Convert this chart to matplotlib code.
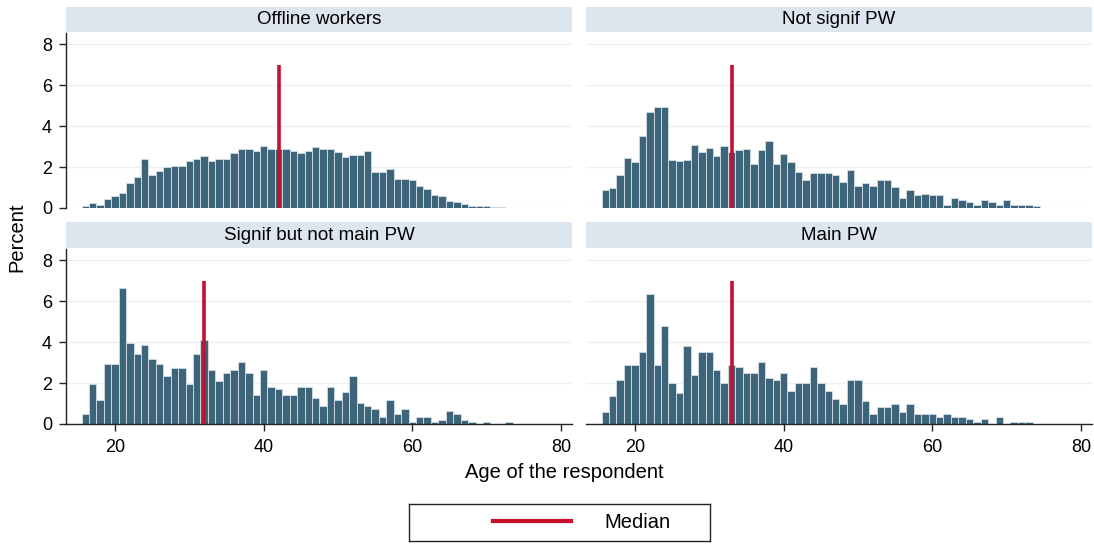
import numpy as np
import matplotlib
matplotlib.use("Agg")
import matplotlib.pyplot as plt
from matplotlib.lines import Line2D

plt.rcParams["font.family"] = ["Liberation Sans", "DejaVu Sans"]

# -----------------------------
# Data (percent of respondents by age, one bar per year of age)
# -----------------------------
panel_titles = ["Offline workers", "Not signif PW", "Signif but not main PW", "Main PW"]
medians = [42, 33, 32, 33]
median_top = 7

ages_offline = list(range(16, 76))
pct_offline = [0.10, 0.23, 0.16, 0.44, 0.57, 0.72, 1.24, 1.53, 2.41, 1.61,
               1.80, 1.99, 2.06, 2.03, 2.31, 2.37, 2.55, 2.28, 2.37, 2.41,
               2.67, 2.89, 2.89, 2.78, 3.01, 2.89, 2.89, 2.89, 2.76, 2.70,
               2.80, 2.99, 2.89, 2.86, 2.72, 2.47, 2.57, 2.59, 2.76, 1.76,
               1.76, 1.90, 1.41, 1.41, 1.38, 1.09, 0.94, 0.63, 0.60, 0.33,
               0.28, 0.20, 0.11, 0.11, 0.08, 0.05, 0.03, 0.02, 0.02, 0.01]

ages_notsig = list(range(16, 75))
pct_notsig = [0.89, 0.99, 1.59, 2.46, 2.23, 3.53, 4.70, 4.93, 4.93, 2.33,
              2.29, 2.33, 3.07, 2.73, 2.93, 2.54, 3.02, 2.73, 2.83, 2.89,
              2.13, 2.83, 3.27, 2.13, 2.63, 2.23, 1.77, 1.37, 1.71, 1.69,
              1.71, 1.59, 1.27, 1.84, 1.09, 1.24, 1.09, 1.37, 1.37, 1.02,
              0.47, 0.89, 0.65, 0.70, 0.65, 0.65, 0.13, 0.47, 0.39, 0.31,
              0.16, 0.41, 0.31, 0.16, 0.41, 0.16, 0.13, 0.16, 0.11]

ages_signif = list(range(16, 74))
pct_signif = [0.49, 1.95, 1.15, 2.91, 2.91, 6.65, 3.95, 3.41, 3.84, 3.15,
              2.91, 2.36, 2.75, 2.75, 1.95, 3.41, 4.08, 2.62, 2.08, 2.49,
              2.62, 3.02, 2.49, 1.41, 2.62, 1.82, 1.69, 1.41, 1.41, 1.82,
              1.82, 1.28, 0.88, 1.82, 1.15, 1.54, 2.36, 1.01, 0.88, 0.75,
              0.34, 1.15, 0.49, 0.75, 0.08, 0.34, 0.34, 0.08, 0.21, 0.62,
              0.49, 0.21, 0.08, 0.0, 0.08, 0.0, 0.0, 0.08]

ages_main = list(range(16, 74))
pct_main = [0.60, 1.37, 2.13, 2.89, 2.89, 3.53, 6.36, 2.89, 4.80, 2.00,
            1.50, 3.79, 2.37, 3.53, 3.53, 2.63, 2.00, 2.89, 2.76, 2.50,
            2.50, 3.01, 2.26, 2.13, 2.50, 1.63, 2.00, 2.00, 2.76, 2.00,
            1.63, 1.24, 0.98, 2.13, 2.13, 1.11, 0.47, 0.85, 0.85, 0.98,
            0.60, 0.98, 0.47, 0.47, 0.47, 0.34, 0.47, 0.34, 0.34, 0.23,
            0.10, 0.23, 0.0, 0.34, 0.0, 0.10, 0.10, 0.10]

panel_ages = [ages_offline, ages_notsig, ages_signif, ages_main]
panel_pct = [pct_offline, pct_notsig, pct_signif, pct_main]

x_ticks = [20, 40, 60, 80]
y_ticks = [0, 2, 4, 6, 8]

# -----------------------------
# Style
# -----------------------------
bar_color = "#3d6479"
bar_edge = "#d3dfe8"
median_color = "#c8102e"
strip_color = "#dde5ee"
grid_color = "#edf1f6"

W, H = 1094, 545
fig = plt.figure(figsize=(W / 100, H / 100), dpi=100)


def box(x0, y0, x1, y1):
    # pixel box (top-left origin) -> figure fraction rect
    return [x0 / W, 1 - y1 / H, (x1 - x0) / W, (y1 - y0) / H]


cols = [(66, 572), (586, 1092)]
rows = [((7, 32), (33, 208)), ((222, 248), (249, 424))]

for i in range(4):
    r, c = divmod(i, 2)
    x0, x1 = cols[c]
    (s0, s1), (p0, p1) = rows[r]

    # strip header
    sax = fig.add_axes(box(x0, s0, x1, s1))
    sax.set_facecolor(strip_color)
    sax.set_xticks([])
    sax.set_yticks([])
    for sp in sax.spines.values():
        sp.set_visible(False)
    sax.text(0.5, 0.5, panel_titles[i], ha="center", va="center",
             fontsize=13.5, transform=sax.transAxes)

    # histogram panel
    ax = fig.add_axes(box(x0, p0, x1, p1))
    ax.bar(panel_ages[i], panel_pct[i], width=1, color=bar_color,
           edgecolor=bar_edge, linewidth=0.6, zorder=2)
    ax.vlines(medians[i], 0, median_top, color=median_color, lw=2.6, zorder=3)

    ax.set_xlim(20 - 49 / 7.433, 20 + 457 / 7.433)
    ax.set_ylim(0, 8.54)
    ax.set_xticks(x_ticks)
    ax.set_yticks(y_ticks)
    ax.yaxis.grid(True, color=grid_color, lw=1, zorder=0)
    ax.set_axisbelow(True)

    ax.spines["top"].set_visible(False)
    ax.spines["right"].set_visible(False)
    ax.spines["left"].set_visible(c == 0)
    ax.spines["bottom"].set_visible(r == 1)
    for sp in ("left", "bottom"):
        ax.spines[sp].set_color("#222222")
        ax.spines[sp].set_linewidth(1)

    ax.tick_params(direction="out", length=5, width=1, color="#222222",
                   labelsize=13)
    ax.tick_params(axis="x", pad=6)
    ax.tick_params(axis="y", pad=5)
    if c == 1:
        ax.tick_params(axis="y", length=0, labelleft=False)
    if r == 0:
        ax.tick_params(axis="x", length=0, labelbottom=False)

fig.text(17 / W, 1 - 237 / H, "Percent", rotation=90, ha="center",
         va="center", fontsize=14.5)
fig.text(564 / W, 1 - 473 / H, "Age of the respondent", ha="center",
         va="center", fontsize=14.5)

# legend box
lax = fig.add_axes(box(409, 504, 710, 541))
lax.set_xticks([])
lax.set_yticks([])
for sp in lax.spines.values():
    sp.set_color("#222222")
    sp.set_linewidth(1)
handle = Line2D([], [], color=median_color, lw=3)
fig.legend([handle], ["Median"], loc="center",
           bbox_to_anchor=(581.5 / W, 1 - 522.5 / H), frameon=False,
           fontsize=14.5, handlelength=3.9, handletextpad=1.65)

fig.savefig("out.png", dpi=100)
